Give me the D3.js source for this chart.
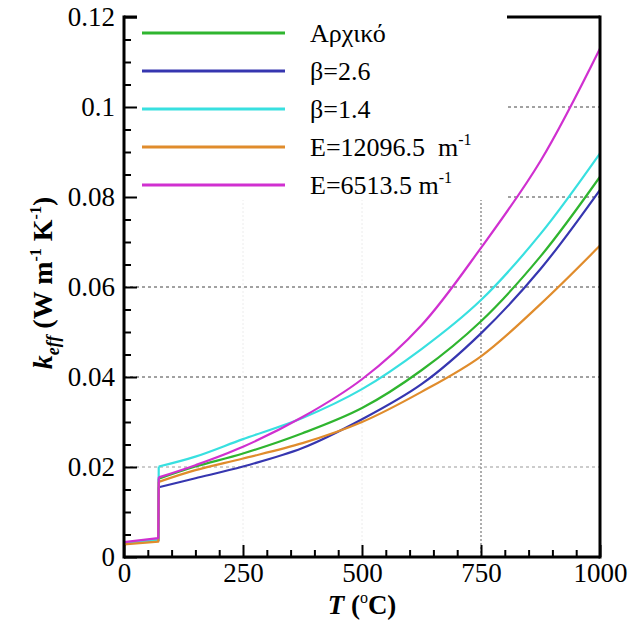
<!DOCTYPE html>
<html>
<head>
<meta charset="utf-8">
<script src="https://cdn.jsdelivr.net/npm/d3@7"></script>
<style>
  html body #chart text, html body #chart tspan, html body #chart .tick text {
    font-family: "Liberation Serif", Tinos, "Times New Roman", serif !important;
  }
</style>
</head>
<body style="margin:0">
<svg id="chart" width="638" height="622" style="font-family: 'Liberation Serif', serif"></svg>
<script>
// ---------- data ----------
const temps = [0, 72, 73, 150, 250, 375, 500, 625, 750, 875, 1000];
const seriesNames = ["Αρχικό", "β=2.6", "β=1.4", "E=12096.5  m", "E=6513.5 m"];
const seriesSup = ["", "", "", "-1", "-1"];
const seriesColors = ["#2fb52f", "#3636b0", "#38e0e0", "#e08c2c", "#d030d0"];
const kInitial = [0.0030, 0.0037, 0.0174, 0.0201, 0.0230, 0.0275, 0.0331, 0.0415, 0.0524, 0.0668, 0.0845];
const kBeta26  = [0.0030, 0.0036, 0.0155, 0.0175, 0.0201, 0.0242, 0.0306, 0.0384, 0.0497, 0.0640, 0.0816];
const kBeta14  = [0.0031, 0.0038, 0.0201, 0.0223, 0.0262, 0.0309, 0.0373, 0.0462, 0.0571, 0.0718, 0.0897];
const kE12096  = [0.0028, 0.0034, 0.0167, 0.0193, 0.0219, 0.0253, 0.0300, 0.0367, 0.0446, 0.0562, 0.0692];
const kE6513   = [0.0033, 0.0042, 0.0177, 0.0204, 0.0245, 0.0311, 0.0395, 0.0515, 0.0687, 0.0880, 0.1130];
const seriesValues = [kInitial, kBeta26, kBeta14, kE12096, kE6513];
const xTicks = [0, 250, 500, 750, 1000];
const xTickLabels = ["0", "250", "500", "750", "1000"];
const yTicks = [0, 0.02, 0.04, 0.06, 0.08, 0.1, 0.12];
const yTickLabels = ["0", "0.02", "0.04", "0.06", "0.08", "0.1", "0.12"];

// ---------- layout ----------
const SERIF = "Liberation Serif";
const x = d3.scaleLinear().domain([0, 1000]).range([124, 600]);
const y = d3.scaleLinear().domain([0, 0.12]).range([557, 17]);

const svg = d3.select("#chart");
svg.append("rect").attr("width", 638).attr("height", 622).attr("fill", "#fff");

// gridlines
const grid = svg.append("g");
[250, 500].forEach(v => grid.append("line")
  .attr("x1", x(v)).attr("x2", x(v)).attr("y1", y(0)).attr("y2", y(0.12))
  .attr("stroke", "#ececec").attr("stroke-width", 1).attr("stroke-dasharray", "2,2"));
grid.append("line")
  .attr("x1", x(750)).attr("x2", x(750)).attr("y1", y(0)).attr("y2", y(0.12))
  .attr("stroke", "#777").attr("stroke-width", 1.2).attr("stroke-dasharray", "2,2");
[0.02, 0.04, 0.06, 0.08, 0.1].forEach(v => grid.append("line")
  .attr("x1", x(0)).attr("x2", x(1000)).attr("y1", y(v)).attr("y2", y(v))
  .attr("stroke", v <= 0.02 ? "#999" : "#444").attr("stroke-width", 1).attr("stroke-dasharray", "3,3"));

// legend background covers the grid and top frame
svg.append("rect").attr("x", 125).attr("y", 10).attr("width", 382).attr("height", 190).attr("fill", "#fff");

// curves: flat low segment + jump drawn straight, the rest smooth
const lineLow = d3.line().x(d => x(d[0])).y(d => y(d[1])).curve(d3.curveLinear);
const lineHigh = d3.line().x(d => x(d[0])).y(d => y(d[1])).curve(d3.curveCatmullRom.alpha(0.5));
seriesValues.forEach((vals, i) => {
  const pts = vals.map((v, j) => [temps[j], v]);
  const g = svg.append("g").attr("fill", "none").attr("stroke", seriesColors[i]).attr("stroke-width", 2.2)
    .attr("stroke-linejoin", "round");
  g.append("path").attr("d", lineLow(pts.slice(0, 3)));
  g.append("path").attr("d", lineHigh(pts.slice(2)));
});

// legend
const leg = svg.append("g");
seriesNames.forEach((name, i) => {
  const ly = 33 + i * 38;
  leg.append("line").attr("x1", 142).attr("x2", 285).attr("y1", ly).attr("y2", ly)
    .attr("stroke", seriesColors[i]).attr("stroke-width", 3);
  const t = leg.append("text").attr("x", 310).attr("y", ly + 9)
    .style("font-family", SERIF).attr("font-size", 26).attr("xml:space", "preserve")
    .style("white-space", "pre").text(name);
  if (seriesSup[i]) {
    t.append("tspan").attr("font-size", 16).attr("dy", -11).text(seriesSup[i]);
  }
});

// axes (ticks inward)
const xMajor = d3.axisBottom(x).tickValues(xTicks).tickFormat((d, i) => xTickLabels[i])
  .tickSizeInner(-12).tickSizeOuter(0).tickPadding(6);
const xMinor = d3.axisBottom(x).tickValues(d3.range(50, 1000, 50).filter(v => v % 250 !== 0))
  .tickFormat("").tickSizeInner(-7).tickSizeOuter(0);
const yMajor = d3.axisLeft(y).tickValues(yTicks).tickFormat((d, i) => yTickLabels[i])
  .tickSizeInner(-13).tickSizeOuter(0).tickPadding(9);
const yMinor = d3.axisLeft(y).tickValues(d3.range(0.005, 0.12, 0.005).filter(v => Math.abs(v / 0.02 - Math.round(v / 0.02)) > 1e-6))
  .tickFormat("").tickSizeInner(-7).tickSizeOuter(0);

function styleAxis(g) {
  g.attr("font-family", SERIF).attr("font-size", 27);
  g.select(".domain").remove();
  g.selectAll(".tick line").attr("stroke", "#000").attr("stroke-width", 2);
  g.selectAll(".tick text").style("font-family", SERIF).attr("fill", "#000");
}
svg.append("g").attr("transform", `translate(0,${y(0)})`).call(xMinor).call(styleAxis);
svg.append("g").attr("transform", `translate(0,${y(0)})`).call(xMajor).call(styleAxis);
svg.append("g").attr("transform", `translate(${x(0)},0)`).call(yMinor).call(styleAxis);
svg.append("g").attr("transform", `translate(${x(0)},0)`).call(yMajor).call(styleAxis);

// frame
const frame = svg.append("g").attr("stroke", "#000").attr("stroke-width", 3).attr("fill", "none");
frame.append("line").attr("x1", x(0)).attr("x2", x(0)).attr("y1", y(0.12) - 1.5).attr("y2", y(0) + 1.5);
frame.append("line").attr("x1", x(0)).attr("x2", x(1000)).attr("y1", y(0)).attr("y2", y(0));
frame.append("line").attr("x1", x(1000)).attr("x2", x(1000)).attr("y1", y(0.12) - 1.5).attr("y2", y(0) + 1.5);
frame.append("line").attr("x1", 507).attr("x2", x(1000)).attr("y1", y(0.12)).attr("y2", y(0.12));
frame.append("line").attr("x1", x(0)).attr("x2", x(0) + 13).attr("y1", y(0.12)).attr("y2", y(0.12));

// axis titles
const xt = svg.append("text").attr("x", 362).attr("y", 614).attr("text-anchor", "middle")
  .style("font-family", SERIF).attr("font-size", 27).attr("font-weight", "bold");
xt.append("tspan").attr("font-style", "italic").text("T");
xt.append("tspan").text(" (");
xt.append("tspan").attr("font-size", 16).attr("dy", -11).attr("font-weight", "normal").text("o");
xt.append("tspan").attr("dy", 11).text("C)");

const yt = svg.append("text").attr("transform", "translate(52,283) rotate(-90)").attr("text-anchor", "middle")
  .style("font-family", SERIF).attr("font-size", 28).attr("font-weight", "bold");
yt.append("tspan").attr("font-style", "italic").text("k");
yt.append("tspan").attr("font-style", "italic").attr("font-size", 18).attr("dy", 7).text("eff");
yt.append("tspan").attr("dy", -7).text(" (W m");
yt.append("tspan").attr("font-size", 16).attr("dy", -11).text("-1");
yt.append("tspan").attr("dy", 11).text(" K");
yt.append("tspan").attr("font-size", 16).attr("dy", -11).text("-1");
yt.append("tspan").attr("dy", 11).text(")");
</script>
</body>
</html>
